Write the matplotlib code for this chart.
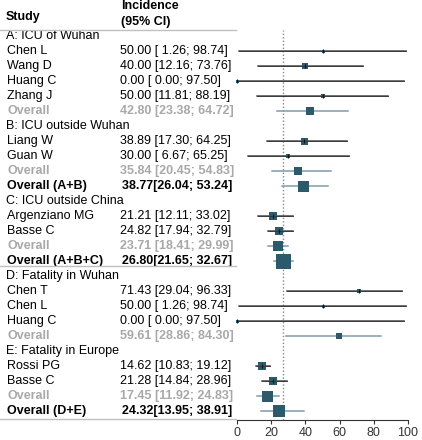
import matplotlib
matplotlib.use("Agg")
import matplotlib.pyplot as plt
from matplotlib.lines import Line2D
from matplotlib.transforms import blended_transform_factory

plt.rcParams['font.family'] = ['Liberation Sans', 'DejaVu Sans']

# rows, top to bottom
labels = ["A: ICU of Wuhan", "Chen L", "Wang D", "Huang C", "Zhang J", "Overall",
          "B: ICU outside Wuhan", "Liang W", "Guan W", "Overall", "Overall (A+B)",
          "C: ICU outside China", "Argenziano MG", "Basse C", "Overall", "Overall (A+B+C)",
          "D: Fatality in Wuhan", "Chen T", "Chen L", "Huang C", "Overall",
          "E: Fatality in Europe", "Rossi PG", "Basse C", "Overall", "Overall (D+E)"]
kinds = ["group", "study", "study", "study", "study", "sub",
         "group", "study", "study", "sub", "total",
         "group", "study", "study", "sub", "total",
         "group", "study", "study", "study", "sub",
         "group", "study", "study", "sub", "total"]
est = [None, 50.00, 40.00, 0.00, 50.00, 42.80,
       None, 38.89, 30.00, 35.84, 38.77,
       None, 21.21, 24.82, 23.71, 26.80,
       None, 71.43, 50.00, 0.00, 59.61,
       None, 14.62, 21.28, 17.45, 24.32]
lower = [None, 1.26, 12.16, 0.00, 11.81, 23.38,
         None, 17.30, 6.67, 20.45, 26.04,
         None, 12.11, 17.94, 18.41, 21.65,
         None, 29.04, 1.26, 0.00, 28.86,
         None, 10.83, 14.84, 11.92, 13.95]
upper = [None, 98.74, 73.76, 97.50, 88.19, 64.72,
         None, 64.25, 65.25, 54.83, 53.24,
         None, 33.02, 32.79, 29.99, 32.67,
         None, 96.33, 98.74, 97.50, 84.30,
         None, 19.12, 28.96, 24.83, 38.91]
# relative weight (square side)
weight = [None, 3, 6, 3, 5, 8,
          None, 7, 5, 8, 11,
          None, 8, 8, 10, 15,
          None, 5, 3, 3, 6,
          None, 8, 8, 11, 12]
ref_value = 26.80
xticks = [0, 20, 40, 60, 80, 100]

W, H = 422, 440
fig = plt.figure(figsize=(W / 100, H / 100), dpi=100)
ax = fig.add_axes([237 / W, 1 - 420 / H, 171 / W, 390 / H])

n = len(labels)
ax.set_ylim(n - 0.4, -0.4)
ax.set_xlim(0, 100)

sq_col = "#2d5a6b"
fs = 9
tr = blended_transform_factory(fig.transFigure, ax.transData)

for i in range(n):
    k = kinds[i]
    if k == "group":
        ax.text(6 / W, i, labels[i], transform=tr, va="center", ha="left",
                fontsize=fs, color="black", clip_on=False)
        continue
    if k == "study":
        col, fw, vtxt, vx = "black", "normal", f"{est[i]:.2f} [{lower[i]:5.2f}; {upper[i]:5.2f}]", 120
    elif k == "sub":
        col, fw, vtxt, vx = "#a8a8a8", "bold", f"{est[i]:.2f} [{lower[i]:5.2f}; {upper[i]:5.2f}]", 120
    else:
        col, fw, vtxt, vx = "black", "bold", f"{est[i]:.2f}[{lower[i]:5.2f}; {upper[i]:5.2f}]", 122
    ax.text(7 / W, i, labels[i], transform=tr, va="center", ha="left",
            fontsize=fs, color=col, fontweight=fw, clip_on=False)
    ax.text(vx / W, i, vtxt, transform=tr, va="center", ha="left",
            fontsize=fs, color=col, fontweight=fw, clip_on=False)

    lcol = "#4a4a4a" if k == "study" else "#7f9bab"
    ax.plot([lower[i], upper[i]], [i, i], color=lcol, lw=1.1, zorder=2, clip_on=False)
    ax.plot(est[i], i, marker="s", markersize=weight[i] * 0.72, color=sq_col,
            markeredgewidth=0, zorder=3, clip_on=False)
    if k == "study":
        ax.plot([lower[i], upper[i]], [i, i], color="#333333", lw=0.6, zorder=4, clip_on=False)
        ax.plot(est[i], i, marker="|", markersize=3, color="#111111", mew=0.8, zorder=5, clip_on=False)

ax.axvline(ref_value, color="#888888", lw=1, linestyle=(0, (1, 1.5)), zorder=1)

for s in ["left", "top", "right"]:
    ax.spines[s].set_visible(False)
ax.spines["bottom"].set_color("#333333")
ax.set_yticks([])
ax.set_xticks(xticks)
ax.tick_params(axis="x", length=3, color="#333333", labelsize=fs, labelcolor="#333333", pad=2)

# header text
fig.text(6 / W, 1 - 17 / H, "Study", fontsize=fs, fontweight="bold", va="center")
fig.text(121 / W, 1 - 6 / H, "Incidence", fontsize=fs, fontweight="bold", va="center")
fig.text(121 / W, 1 - 22 / H, "(95% CI)", fontsize=fs, fontweight="bold", va="center")

# separators
for yp in [30, 266, 419]:
    fig.add_artist(Line2D([0, 236 / W], [1 - yp / H, 1 - yp / H], color="#c0c0c0",
                          lw=1, transform=fig.transFigure))

fig.savefig("out.png", dpi=100)
